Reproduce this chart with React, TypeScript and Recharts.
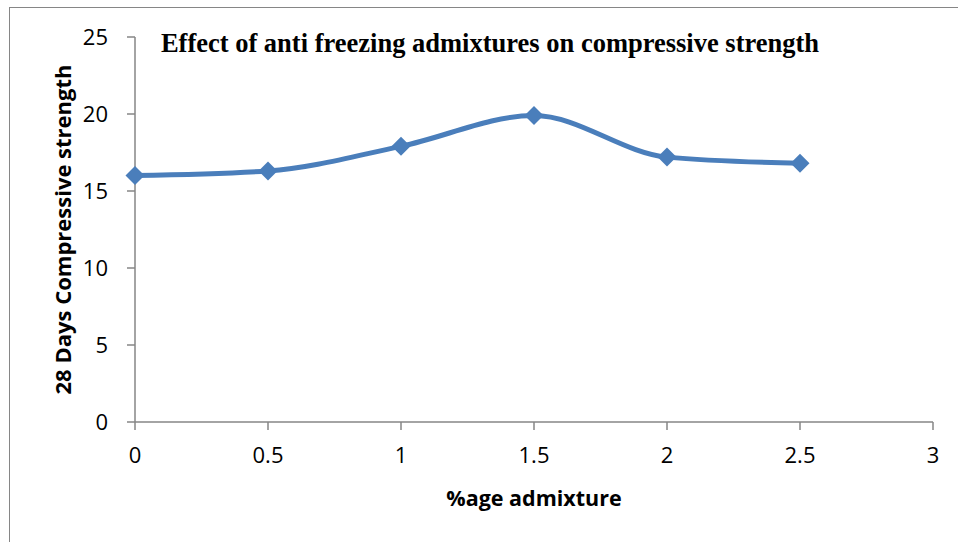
import React from 'react';
import { LineChart, Line, XAxis, YAxis, Label } from 'recharts';

// %age admixture vs 28 day strength
const admixture = [0, 0.5, 1, 1.5, 2, 2.5];
const strength = [16.0, 16.3, 17.9, 19.9, 17.2, 16.8];
const xTicks = [0, 0.5, 1, 1.5, 2, 2.5, 3];
const yTicks = [0, 5, 10, 15, 20, 25];

const data = admixture.map((x, i) => ({ x, y: strength[i] }));

const AXIS = '#868686';
const BLUE = '#4A7EBB';

const Diamond = (props: any) => {
  const { cx, cy } = props;
  if (cx == null || cy == null) return null;
  const r = 9.5;
  return (
    <polygon
      points={`${cx},${cy - r} ${cx + r},${cy} ${cx},${cy + r} ${cx - r},${cy}`}
      fill={BLUE}
    />
  );
};

export default function App() {
  return (
    <div style={{ position: 'absolute', left: 0, top: 0, width: 958, height: 542, background: '#fff', overflow: 'hidden' }}>
      {/* chart frame, only top and left edges are visible in the crop */}
      <div style={{ position: 'absolute', left: 9, top: 7, right: -2, bottom: -2, borderTop: `1px solid ${AXIS}`, borderLeft: `1px solid ${AXIS}` }} />

      <div
        style={{
          position: 'absolute', left: 0, width: 980, top: 26, textAlign: 'center',
          fontFamily: '"Liberation Serif", "Times New Roman", serif', fontWeight: 'bold', fontSize: 26.5, color: '#000', lineHeight: '34px',
        }}
      >
        Effect of anti freezing admixtures on compressive strength
      </div>

      <LineChart width={958} height={542} data={data} margin={{ top: 37, right: 25, bottom: 20, left: 0 }} style={{ position: 'absolute', left: 0, top: 0 }}>
        <XAxis
          dataKey="x"
          type="number"
          domain={[0, 3]}
          ticks={xTicks}
          interval={0}
          height={100}
          stroke={AXIS}
          strokeWidth={1.5}
          tickSize={8}
          tickMargin={17}
          tick={{ fill: '#000', fontSize: 22, fontFamily: '"Open Sans", sans-serif' }}
        >
          <Label
            value="%age admixture"
            position="insideBottom"
            offset={16}
            style={{ fill: '#000', fontSize: 21.5, fontWeight: 'bold', fontFamily: '"Open Sans", sans-serif' }}
          />
        </XAxis>
        <YAxis
          type="number"
          domain={[0, 25]}
          ticks={yTicks}
          interval={0}
          width={135}
          stroke={AXIS}
          strokeWidth={1.5}
          tickSize={8}
          tickMargin={19}
          tick={{ fill: '#000', fontSize: 22, fontFamily: '"Open Sans", sans-serif' }}
        >
          <Label
            value="28 Days Compressive strength"
            content={(p: any) => {
              const vb = p.viewBox || {};
              const cy = vb.y + vb.height / 2;
              return (
                <text
                  x={62}
                  y={cy}
                  transform={`rotate(-90 62 ${cy})`}
                  textAnchor="middle"
                  dominantBaseline="central"
                  style={{ fill: '#000', fontSize: 22, fontWeight: 'bold', fontFamily: '"Open Sans", sans-serif' }}
                >
                  28 Days Compressive strength
                </text>
              );
            }}
          />
        </YAxis>
        <Line
          type="monotone"
          dataKey="y"
          stroke={BLUE}
          strokeWidth={5}
          dot={<Diamond />}
          activeDot={false}
          isAnimationActive={false}
        />
      </LineChart>
    </div>
  );
}
